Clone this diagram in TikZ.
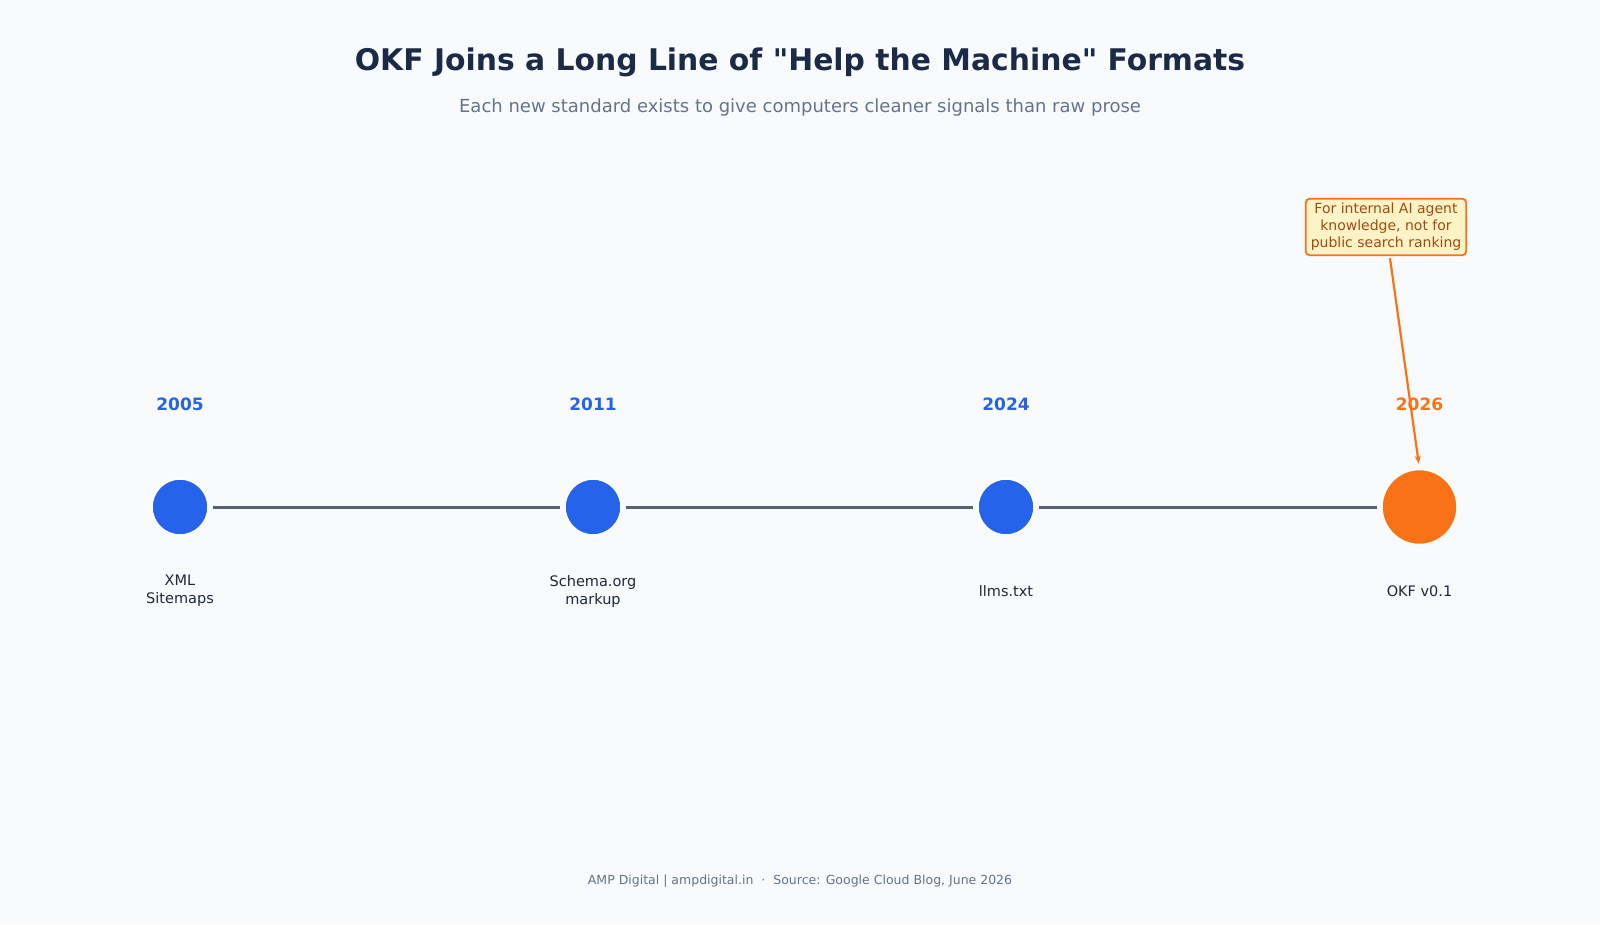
\documentclass[tikz,border=0pt]{standalone}
\usepackage{fontspec}
\setmainfont{DejaVu Sans}[Ligatures=TeXOff]
\usetikzlibrary{arrows.meta}
\definecolor{bg}{HTML}{F9FAFB}
\definecolor{navy}{HTML}{1B2A47}
\definecolor{slate}{HTML}{64748B}
\definecolor{dark}{HTML}{1E293B}
\definecolor{linec}{HTML}{556274}
\definecolor{blue}{HTML}{2563EB}
\definecolor{orng}{HTML}{F97316}
\definecolor{notefill}{HTML}{FEF3C7}
\definecolor{notetext}{HTML}{A14B0C}
\tikzset{
  x=1pt, y=-1pt,
  dot/.style={circle, fill=blue, draw=white, line width=1.5pt, minimum size=56pt, inner sep=0pt},
  bigdot/.style={circle, fill=orng, draw=white, line width=1.5pt, minimum size=75pt, inner sep=0pt},
  year/.style={font=\fontsize{17}{20}\selectfont\bfseries, text=blue},
  lbl/.style={font=\fontsize{14.5}{18}\selectfont, text=dark, align=center},
  link/.style={draw=linec, line width=3pt, shorten <=4pt, shorten >=4pt},
}
\begin{document}
\begin{tikzpicture}
\fill[bg] (0,0) rectangle (1600,924);
\useasboundingbox (0,0) rectangle (1600,924);

\node[font=\fontsize{29.8}{34}\selectfont\bfseries, text=navy] (title) at (800,62) {OKF Joins a Long Line of "Help the Machine" Formats};
\node[font=\fontsize{18}{22}\selectfont, text=slate] (sub) at (800,108) {Each new standard exists to give computers cleaner signals than raw prose};

\node[dot] (c1) at (180,507) {};
\node[dot] (c2) at (593,507) {};
\node[dot] (c3) at (1006,507) {};
\node[bigdot] (c4) at (1419.5,507) {};

\draw[link] (c1) -- (c2);
\draw[link] (c2) -- (c3);
\draw[link] (c3) -- (c4);

\node[year] (y1) at (180,404) {2005};
\node[year] (y2) at (593,404) {2011};
\node[year] (y3) at (1006,404) {2024};
\node[year, text=orng] (y4) at (1419.5,404) {2026};

\node[lbl] (l1) at (180,591) {XML\\Sitemaps};
\node[lbl] (l2) at (593,591) {Schema.org\\markup};
\node[lbl] (l3) at (1006,591) {llms.txt};
\node[lbl] (l4) at (1419.5,591) {OKF v0.1};

\node[draw=orng, fill=notefill, line width=1.8pt, rounded corners=4pt, text=notetext,
      font=\fontsize{14}{17}\selectfont, align=center, inner xsep=5pt, inner ysep=4.5pt] (note) at (1386,227)
  {For internal AI agent\\knowledge, not for\\public search ranking};
\coordinate (a0) at ([xshift=4pt,yshift=-2pt]note.south);
\draw[draw=orng, line width=2.2pt, -{Stealth[length=8pt,width=6pt]}, shorten >=5pt] (a0) -- (c4.north);

\node[font=\fontsize{12.5}{15}\selectfont, text=slate] (foot) at (800,881) {AMP Digital | ampdigital.in~~·~~Source: Google Cloud Blog, June 2026};
\end{tikzpicture}
\end{document}
